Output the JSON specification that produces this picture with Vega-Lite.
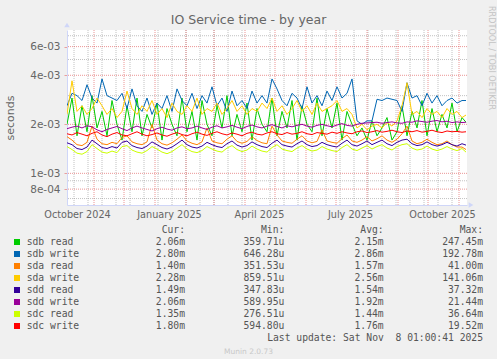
{
"$schema": "https://vega.github.io/schema/vega-lite/v6.json",
"background": "#f0f0f0",
"padding": {"left": 4, "top": 6, "right": 20, "bottom": 20},
"config": {"font": "DejaVu Sans", "view": {"stroke": null}},
"bounds": "flush",
"spacing": 25,
"resolve": {"scale": {"x": "independent", "y": "independent"}},
"title": {"text": "RRDTOOL / TOBI OETIKER", "orient": "right", "anchor": "start", "frame": "group", "angle": 90, "align": "left", "baseline": "alphabetic", "offset": -2, "dx": -24, "fontSize": 8.1, "font": "DejaVu Sans", "fontWeight": "normal", "color": "#c4c4c4"},
"datasets": {
"io": [
{"d":"2024-10-05T00:00","sdb read":0.002,"sdb write":0.0026,"sda read":0.00168,"sda write":0.0023,"sdd read":0.00154,"sdd write":0.00188,"sdc read":0.00146,"sdc write":0.00175},
{"d":"2024-10-10T00:00","sdb read":0.0029,"sdb write":0.0031,"sda read":0.0016,"sda write":0.0037,"sdd read":0.0015,"sdd write":0.00192,"sdc read":0.0014,"sdc write":0.00172},
{"d":"2024-10-15T00:00","sdb read":0.0017,"sdb write":0.003,"sda read":0.0015,"sda write":0.0024,"sdd read":0.00142,"sdd write":0.00195,"sdc read":0.00133,"sdc write":0.00178},
{"d":"2024-10-20T00:00","sdb read":0.0026,"sdb write":0.0028,"sda read":0.00148,"sda write":0.0026,"sdd read":0.0014,"sdd write":0.0019,"sdc read":0.00131,"sdc write":0.00174},
{"d":"2024-10-25T00:00","sdb read":0.0018,"sdb write":0.0035,"sda read":0.00155,"sda write":0.0023,"sdd read":0.00145,"sdd write":0.00196,"sdc read":0.00136,"sdc write":0.0017},
{"d":"2024-10-30T00:00","sdb read":0.003,"sdb write":0.0029,"sda read":0.00195,"sda write":0.0025,"sdd read":0.0016,"sdd write":0.00193,"sdc read":0.0015,"sdc write":0.00176},
{"d":"2024-11-04T00:00","sdb read":0.0019,"sdb write":0.0027,"sda read":0.00162,"sda write":0.0029,"sdd read":0.00152,"sdd write":0.00185,"sdc read":0.00142,"sdc write":0.0018},
{"d":"2024-11-09T00:00","sdb read":0.0024,"sdb write":0.0038,"sda read":0.00152,"sda write":0.0026,"sdd read":0.00144,"sdd write":0.0018,"sdc read":0.00135,"sdc write":0.00172},
{"d":"2024-11-14T00:00","sdb read":0.0017,"sdb write":0.003,"sda read":0.0015,"sda write":0.0023,"sdd read":0.00142,"sdd write":0.00186,"sdc read":0.00133,"sdc write":0.00168},
{"d":"2024-11-19T00:00","sdb read":0.0028,"sdb write":0.0029,"sda read":0.00155,"sda write":0.0025,"sdd read":0.00146,"sdd write":0.0019,"sdc read":0.00137,"sdc write":0.00174},
{"d":"2024-11-24T00:00","sdb read":0.002,"sdb write":0.0028,"sda read":0.00152,"sda write":0.0022,"sdd read":0.00143,"sdd write":0.00194,"sdc read":0.00134,"sdc write":0.00178},
{"d":"2024-11-29T00:00","sdb read":0.0016,"sdb write":0.0031,"sda read":0.00166,"sda write":0.0024,"sdd read":0.00155,"sdd write":0.00188,"sdc read":0.00146,"sdc write":0.00172},
{"d":"2024-12-04T00:00","sdb read":0.0026,"sdb write":0.0025,"sda read":0.0017,"sda write":0.0032,"sdd read":0.00158,"sdd write":0.00183,"sdc read":0.00148,"sdc write":0.0017},
{"d":"2024-12-09T00:00","sdb read":0.0018,"sdb write":0.0033,"sda read":0.00156,"sda write":0.0025,"sdd read":0.00148,"sdd write":0.0019,"sdc read":0.00139,"sdc write":0.00175},
{"d":"2024-12-14T00:00","sdb read":0.0029,"sdb write":0.0026,"sda read":0.00152,"sda write":0.0023,"sdd read":0.00144,"sdd write":0.00195,"sdc read":0.00135,"sdc write":0.0018},
{"d":"2024-12-19T00:00","sdb read":0.0017,"sdb write":0.0024,"sda read":0.0015,"sda write":0.0026,"sdd read":0.00142,"sdd write":0.0019,"sdc read":0.00133,"sdc write":0.00174},
{"d":"2024-12-24T00:00","sdb read":0.0023,"sdb write":0.0029,"sda read":0.00156,"sda write":0.0024,"sdd read":0.00147,"sdd write":0.00186,"sdc read":0.00138,"sdc write":0.0017},
{"d":"2024-12-29T00:00","sdb read":0.0019,"sdb write":0.0023,"sda read":0.002,"sda write":0.0028,"sdd read":0.00156,"sdd write":0.00182,"sdc read":0.00146,"sdc write":0.00173},
{"d":"2025-01-03T00:00","sdb read":0.0027,"sdb write":0.0027,"sda read":0.0016,"sda write":0.0023,"sdd read":0.0015,"sdd write":0.00188,"sdc read":0.00141,"sdc write":0.00177},
{"d":"2025-01-08T00:00","sdb read":0.0016,"sdb write":0.0025,"sda read":0.00152,"sda write":0.0025,"sdd read":0.00144,"sdd write":0.00192,"sdc read":0.00135,"sdc write":0.00172},
{"d":"2025-01-13T00:00","sdb read":0.0025,"sdb write":0.003,"sda read":0.00149,"sda write":0.0022,"sdd read":0.00141,"sdd write":0.00187,"sdc read":0.00132,"sdc write":0.00169},
{"d":"2025-01-18T00:00","sdb read":0.002,"sdb write":0.0024,"sda read":0.00154,"sda write":0.0027,"sdd read":0.00145,"sdd write":0.00184,"sdc read":0.00136,"sdc write":0.00174},
{"d":"2025-01-23T00:00","sdb read":0.0017,"sdb write":0.0033,"sda read":0.00162,"sda write":0.0024,"sdd read":0.00152,"sdd write":0.0019,"sdc read":0.00143,"sdc write":0.00178},
{"d":"2025-01-28T00:00","sdb read":0.0029,"sdb write":0.0028,"sda read":0.00172,"sda write":0.0023,"sdd read":0.0016,"sdd write":0.00193,"sdc read":0.0015,"sdc write":0.00173},
{"d":"2025-02-02T00:00","sdb read":0.0018,"sdb write":0.0026,"sda read":0.00158,"sda write":0.0026,"sdd read":0.0015,"sdd write":0.00188,"sdc read":0.00141,"sdc write":0.0017},
{"d":"2025-02-07T00:00","sdb read":0.0024,"sdb write":0.0031,"sda read":0.00153,"sda write":0.0024,"sdd read":0.00145,"sdd write":0.0019,"sdc read":0.00136,"sdc write":0.00175},
{"d":"2025-02-12T00:00","sdb read":0.0016,"sdb write":0.0025,"sda read":0.0015,"sda write":0.0029,"sdd read":0.00143,"sdd write":0.00195,"sdc read":0.00134,"sdc write":0.00179},
{"d":"2025-02-17T00:00","sdb read":0.0028,"sdb write":0.003,"sda read":0.00156,"sda write":0.0023,"sdd read":0.00147,"sdd write":0.0019,"sdc read":0.00138,"sdc write":0.00174},
{"d":"2025-02-22T00:00","sdb read":0.002,"sdb write":0.0027,"sda read":0.0019,"sda write":0.0025,"sdd read":0.00155,"sdd write":0.00186,"sdc read":0.00146,"sdc write":0.00171},
{"d":"2025-02-27T00:00","sdb read":0.0017,"sdb write":0.0034,"sda read":0.00158,"sda write":0.0024,"sdd read":0.0015,"sdd write":0.00192,"sdc read":0.00141,"sdc write":0.00176},
{"d":"2025-03-04T00:00","sdb read":0.0026,"sdb write":0.0026,"sda read":0.00154,"sda write":0.0027,"sdd read":0.00146,"sdd write":0.00196,"sdc read":0.00137,"sdc write":0.0018},
{"d":"2025-03-09T00:00","sdb read":0.0019,"sdb write":0.0029,"sda read":0.00152,"sda write":0.0023,"sdd read":0.00144,"sdd write":0.0019,"sdc read":0.00135,"sdc write":0.00175},
{"d":"2025-03-14T00:00","sdb read":0.003,"sdb write":0.0024,"sda read":0.00162,"sda write":0.0025,"sdd read":0.00152,"sdd write":0.00193,"sdc read":0.00143,"sdc write":0.00172},
{"d":"2025-03-19T00:00","sdb read":0.0017,"sdb write":0.0032,"sda read":0.0017,"sda write":0.0028,"sdd read":0.00158,"sdd write":0.00197,"sdc read":0.00148,"sdc write":0.00177},
{"d":"2025-03-24T00:00","sdb read":0.0023,"sdb write":0.0026,"sda read":0.00157,"sda write":0.0024,"sdd read":0.00149,"sdd write":0.00192,"sdc read":0.0014,"sdc write":0.00174},
{"d":"2025-03-29T00:00","sdb read":0.0018,"sdb write":0.0028,"sda read":0.00153,"sda write":0.0026,"sdd read":0.00145,"sdd write":0.00188,"sdc read":0.00136,"sdc write":0.0017},
{"d":"2025-04-03T00:00","sdb read":0.0027,"sdb write":0.0025,"sda read":0.00157,"sda write":0.0023,"sdd read":0.00148,"sdd write":0.00194,"sdc read":0.00139,"sdc write":0.00176},
{"d":"2025-04-08T00:00","sdb read":0.0016,"sdb write":0.0032,"sda read":0.00168,"sda write":0.0025,"sdd read":0.00156,"sdd write":0.00198,"sdc read":0.00147,"sdc write":0.00179},
{"d":"2025-04-13T00:00","sdb read":0.0025,"sdb write":0.0027,"sda read":0.00159,"sda write":0.0024,"sdd read":0.0015,"sdd write":0.00193,"sdc read":0.00141,"sdc write":0.00174},
{"d":"2025-04-18T00:00","sdb read":0.002,"sdb write":0.003,"sda read":0.00154,"sda write":0.0027,"sdd read":0.00146,"sdd write":0.0019,"sdc read":0.00137,"sdc write":0.00172},
{"d":"2025-04-23T00:00","sdb read":0.0018,"sdb write":0.0027,"sda read":0.00152,"sda write":0.0025,"sdd read":0.00144,"sdd write":0.00195,"sdc read":0.00135,"sdc write":0.00177},
{"d":"2025-04-28T00:00","sdb read":0.0029,"sdb write":0.0038,"sda read":0.00195,"sda write":0.0029,"sdd read":0.00153,"sdd write":0.00199,"sdc read":0.00144,"sdc write":0.0018},
{"d":"2025-05-03T00:00","sdb read":0.0017,"sdb write":0.0033,"sda read":0.00172,"sda write":0.0024,"sdd read":0.0016,"sdd write":0.00194,"sdc read":0.0015,"sdc write":0.00175},
{"d":"2025-05-08T00:00","sdb read":0.0024,"sdb write":0.0028,"sda read":0.00158,"sda write":0.0026,"sdd read":0.0015,"sdd write":0.0019,"sdc read":0.00141,"sdc write":0.00173},
{"d":"2025-05-13T00:00","sdb read":0.0019,"sdb write":0.0026,"sda read":0.00155,"sda write":0.0023,"sdd read":0.00147,"sdd write":0.00196,"sdc read":0.00138,"sdc write":0.00178},
{"d":"2025-05-18T00:00","sdb read":0.0028,"sdb write":0.0031,"sda read":0.00153,"sda write":0.0025,"sdd read":0.00145,"sdd write":0.00193,"sdc read":0.00136,"sdc write":0.00174},
{"d":"2025-05-23T00:00","sdb read":0.0016,"sdb write":0.0029,"sda read":0.00162,"sda write":0.0028,"sdd read":0.00152,"sdd write":0.00197,"sdc read":0.00143,"sdc write":0.00176},
{"d":"2025-05-28T00:00","sdb read":0.0026,"sdb write":0.0025,"sda read":0.0017,"sda write":0.0024,"sdd read":0.00158,"sdd write":0.002,"sdc read":0.00148,"sdc write":0.0018},
{"d":"2025-06-02T00:00","sdb read":0.002,"sdb write":0.0034,"sda read":0.00158,"sda write":0.0026,"sdd read":0.0015,"sdd write":0.00195,"sdc read":0.00141,"sdc write":0.00175},
{"d":"2025-06-07T00:00","sdb read":0.0018,"sdb write":0.0027,"sda read":0.00154,"sda write":0.0023,"sdd read":0.00146,"sdd write":0.00192,"sdc read":0.00137,"sdc write":0.00173},
{"d":"2025-06-12T00:00","sdb read":0.0029,"sdb write":0.003,"sda read":0.00157,"sda write":0.0027,"sdd read":0.00148,"sdd write":0.00197,"sdc read":0.00139,"sdc write":0.00178},
{"d":"2025-06-17T00:00","sdb read":0.0017,"sdb write":0.0026,"sda read":0.00185,"sda write":0.0024,"sdd read":0.00155,"sdd write":0.002,"sdc read":0.00146,"sdc write":0.00176},
{"d":"2025-06-22T00:00","sdb read":0.0025,"sdb write":0.0032,"sda read":0.00158,"sda write":0.0025,"sdd read":0.0015,"sdd write":0.00196,"sdc read":0.00141,"sdc write":0.00174},
{"d":"2025-06-27T00:00","sdb read":0.0019,"sdb write":0.0028,"sda read":0.00155,"sda write":0.0026,"sdd read":0.00147,"sdd write":0.00193,"sdc read":0.00138,"sdc write":0.00179},
{"d":"2025-07-02T00:00","sdb read":0.0027,"sdb write":0.0034,"sda read":0.00153,"sda write":0.0028,"sdd read":0.00145,"sdd write":0.00198,"sdc read":0.00136,"sdc write":0.00176},
{"d":"2025-07-07T00:00","sdb read":0.0016,"sdb write":0.0029,"sda read":0.00163,"sda write":0.0024,"sdd read":0.00153,"sdd write":0.00202,"sdc read":0.00144,"sdc write":0.0018},
{"d":"2025-07-12T00:00","sdb read":0.0024,"sdb write":0.0031,"sda read":0.00172,"sda write":0.0025,"sdd read":0.0016,"sdd write":0.00197,"sdc read":0.0015,"sdc write":0.00177},
{"d":"2025-07-17T00:00","sdb read":0.002,"sdb write":0.0038,"sda read":0.00158,"sda write":0.0023,"sdd read":0.0015,"sdd write":0.00195,"sdc read":0.00141,"sdc write":0.00175},
{"d":"2025-07-22T00:00","sdb read":0.0017,"sdb write":0.0021,"sda read":0.00155,"sda write":0.0019,"sdd read":0.00147,"sdd write":0.002,"sdc read":0.00138,"sdc write":0.0018},
{"d":"2025-07-27T00:00","sdb read":0.0019,"sdb write":0.002,"sda read":0.0016,"sda write":0.002,"sdd read":0.00152,"sdd write":0.00203,"sdc read":0.00143,"sdc write":0.00182},
{"d":"2025-08-01T00:00","sdb read":0.0016,"sdb write":0.0021,"sda read":0.00168,"sda write":0.00185,"sdd read":0.00158,"sdd write":0.00204,"sdc read":0.00148,"sdc write":0.00178},
{"d":"2025-08-06T00:00","sdb read":0.0021,"sdb write":0.0021,"sda read":0.00158,"sda write":0.00195,"sdd read":0.0015,"sdd write":0.00205,"sdc read":0.00141,"sdc write":0.0018},
{"d":"2025-08-11T00:00","sdb read":0.0017,"sdb write":0.00285,"sda read":0.00163,"sda write":0.002,"sdd read":0.00155,"sdd write":0.00206,"sdc read":0.00146,"sdc write":0.00183},
{"d":"2025-08-16T00:00","sdb read":0.0019,"sdb write":0.0028,"sda read":0.0017,"sda write":0.0019,"sdd read":0.0016,"sdd write":0.00203,"sdc read":0.0015,"sdc write":0.00179},
{"d":"2025-08-21T00:00","sdb read":0.0022,"sdb write":0.0029,"sda read":0.0016,"sda write":0.00205,"sdd read":0.00152,"sdd write":0.00205,"sdc read":0.00143,"sdc write":0.00181},
{"d":"2025-08-26T00:00","sdb read":0.0016,"sdb write":0.00285,"sda read":0.00155,"sda write":0.00195,"sdd read":0.00148,"sdd write":0.00207,"sdc read":0.00139,"sdc write":0.00184},
{"d":"2025-08-31T00:00","sdb read":0.0018,"sdb write":0.0028,"sda read":0.00162,"sda write":0.0021,"sdd read":0.00155,"sdd write":0.00204,"sdc read":0.00146,"sdc write":0.0018},
{"d":"2025-09-05T00:00","sdb read":0.0026,"sdb write":0.0024,"sda read":0.00175,"sda write":0.0026,"sdd read":0.0016,"sdd write":0.00203,"sdc read":0.0015,"sdc write":0.00178},
{"d":"2025-09-10T00:00","sdb read":0.0017,"sdb write":0.0036,"sda read":0.00195,"sda write":0.0036,"sdd read":0.00162,"sdd write":0.00207,"sdc read":0.00152,"sdc write":0.00182},
{"d":"2025-09-15T00:00","sdb read":0.0024,"sdb write":0.0029,"sda read":0.00158,"sda write":0.0023,"sdd read":0.00152,"sdd write":0.00206,"sdc read":0.00143,"sdc write":0.0018},
{"d":"2025-09-20T00:00","sdb read":0.0019,"sdb write":0.003,"sda read":0.00152,"sda write":0.0024,"sdd read":0.00148,"sdd write":0.0021,"sdc read":0.00139,"sdc write":0.00183},
{"d":"2025-09-25T00:00","sdb read":0.0028,"sdb write":0.0026,"sda read":0.00155,"sda write":0.0022,"sdd read":0.0015,"sdd write":0.00208,"sdc read":0.00141,"sdc write":0.00179},
{"d":"2025-09-30T00:00","sdb read":0.0017,"sdb write":0.0031,"sda read":0.00162,"sda write":0.0025,"sdd read":0.00156,"sdd write":0.00206,"sdc read":0.00147,"sdc write":0.00181},
{"d":"2025-10-05T00:00","sdb read":0.0025,"sdb write":0.0027,"sda read":0.00155,"sda write":0.0023,"sdd read":0.0015,"sdd write":0.00209,"sdc read":0.00141,"sdc write":0.00184},
{"d":"2025-10-10T00:00","sdb read":0.0018,"sdb write":0.003,"sda read":0.0015,"sda write":0.0024,"sdd read":0.00147,"sdd write":0.00211,"sdc read":0.00138,"sdc write":0.0018},
{"d":"2025-10-15T00:00","sdb read":0.0023,"sdb write":0.0026,"sda read":0.00152,"sda write":0.0022,"sdd read":0.0015,"sdd write":0.00207,"sdc read":0.00141,"sdc write":0.00178},
{"d":"2025-10-20T00:00","sdb read":0.0019,"sdb write":0.0028,"sda read":0.00158,"sda write":0.0025,"sdd read":0.00155,"sdd write":0.00209,"sdc read":0.00146,"sdc write":0.00182},
{"d":"2025-10-25T00:00","sdb read":0.0027,"sdb write":0.0029,"sda read":0.0015,"sda write":0.0023,"sdd read":0.0015,"sdd write":0.00205,"sdc read":0.00141,"sdc write":0.0018},
{"d":"2025-10-30T00:00","sdb read":0.0018,"sdb write":0.0027,"sda read":0.00145,"sda write":0.0024,"sdd read":0.00147,"sdd write":0.00207,"sdc read":0.00138,"sdc write":0.00181},
{"d":"2025-11-04T00:00","sdb read":0.0022,"sdb write":0.0028,"sda read":0.00145,"sda write":0.0022,"sdd read":0.00152,"sdd write":0.00205,"sdc read":0.00142,"sdc write":0.00179},
{"d":"2025-11-08T00:00","sdb read":0.00206,"sdb write":0.0028,"sda read":0.0014,"sda write":0.00228,"sdd read":0.00149,"sdd write":0.00206,"sdc read":0.00135,"sdc write":0.0018}
],
"xminor": [{"d":"2024-10-12T00:00"},{"d":"2024-10-26T00:00"},{"d":"2024-11-09T00:00"},{"d":"2024-11-23T00:00"},{"d":"2024-12-07T00:00"},{"d":"2024-12-21T00:00"},{"d":"2025-01-04T00:00"},{"d":"2025-01-18T00:00"},{"d":"2025-02-01T00:00"},{"d":"2025-02-15T00:00"},{"d":"2025-03-01T00:00"},{"d":"2025-03-15T00:00"},{"d":"2025-03-29T00:00"},{"d":"2025-04-12T00:00"},{"d":"2025-04-26T00:00"},{"d":"2025-05-10T00:00"},{"d":"2025-05-24T00:00"},{"d":"2025-06-07T00:00"},{"d":"2025-06-21T00:00"},{"d":"2025-07-05T00:00"},{"d":"2025-07-19T00:00"},{"d":"2025-08-02T00:00"},{"d":"2025-08-16T00:00"},{"d":"2025-08-30T00:00"},{"d":"2025-09-13T00:00"},{"d":"2025-09-27T00:00"},{"d":"2025-10-11T00:00"},{"d":"2025-10-25T00:00"}],
"xmajor": [{"d":"2024-11-01T00:00"},{"d":"2024-12-01T00:00"},{"d":"2025-01-01T00:00"},{"d":"2025-02-01T00:00"},{"d":"2025-03-01T00:00"},{"d":"2025-04-01T00:00"},{"d":"2025-05-01T00:00"},{"d":"2025-06-01T00:00"},{"d":"2025-07-01T00:00"},{"d":"2025-08-01T00:00"},{"d":"2025-09-01T00:00"},{"d":"2025-10-01T00:00"},{"d":"2025-11-01T00:00"}],
"yminor": [{"v":0.0007},{"v":0.0009},{"v":0.003},{"v":0.005},{"v":0.007}],
"ymajor": [{"v":0.0008},{"v":0.001},{"v":0.002},{"v":0.004},{"v":0.006}],
"legend": [
{"s":"hdr","cur":"Cur:\u00a0\u00a0","min":"Min:\u00a0\u00a0","avg":"Avg:\u00a0\u00a0","max":"Max:\u00a0\u00a0"},
{"s":"sdb read","cur":"2.06m","min":"359.71u","avg":"2.15m","max":"247.45m"},
{"s":"sdb write","cur":"2.80m","min":"646.28u","avg":"2.86m","max":"192.78m"},
{"s":"sda read","cur":"1.40m","min":"351.53u","avg":"1.57m","max":"41.00m"},
{"s":"sda write","cur":"2.28m","min":"859.51u","avg":"2.56m","max":"141.06m"},
{"s":"sdd read","cur":"1.49m","min":"347.83u","avg":"1.54m","max":"37.32m"},
{"s":"sdd write","cur":"2.06m","min":"589.95u","avg":"1.92m","max":"21.44m"},
{"s":"sdc read","cur":"1.35m","min":"276.51u","avg":"1.44m","max":"36.64m"},
{"s":"sdc write","cur":"1.80m","min":"594.80u","avg":"1.76m","max":"19.52m"},
{"s":"upd","max":"Last update: Sat Nov\u00a0 8 01:00:41 2025"}
]
},
"vconcat": [
{
"width": 400,
"height": 175,
"view": {"fill": "#ffffff", "stroke": null},
"title": {"text": "IO Service time - by year", "anchor": "middle", "frame": "group", "dx": -18.5, "offset": -13.7, "baseline": "alphabetic", "fontSize": 12.5, "font": "DejaVu Sans", "fontWeight": "normal", "color": "#666666"},
"layer": [
{"data": {"name": "xminor"}, "mark": {"type": "rule", "color": "#8f8f8f", "strokeOpacity": 0.55, "strokeDash": [1, 1], "strokeWidth": 1},
 "encoding": {"x": {"field": "d", "type": "temporal", "scale": {"domain": [{"year": 2024, "month": 10, "date": 5}, {"year": 2025, "month": 11, "date": 9}]}}}},
{"data": {"name": "xmajor"}, "mark": {"type": "rule", "color": "#de4f4f", "strokeOpacity": 0.6, "strokeDash": [1, 1], "strokeWidth": 1},
 "encoding": {"x": {"field": "d", "type": "temporal", "scale": {"domain": [{"year": 2024, "month": 10, "date": 5}, {"year": 2025, "month": 11, "date": 9}]}}}},
{"data": {"name": "yminor"}, "mark": {"type": "rule", "color": "#8f8f8f", "strokeOpacity": 0.55, "strokeDash": [1, 1], "strokeWidth": 1},
 "encoding": {"y": {"field": "v", "type": "quantitative", "scale": {"type": "log", "domain": [0.000639, 0.00759], "nice": false}}}},
{"data": {"name": "ymajor"}, "mark": {"type": "rule", "color": "#de4f4f", "strokeOpacity": 0.6, "strokeDash": [1, 1], "strokeWidth": 1},
 "encoding": {"y": {"field": "v", "type": "quantitative", "scale": {"type": "log", "domain": [0.000639, 0.00759], "nice": false}}}},
{"data": {"name": "io"},
 "transform": [{"fold": ["sdb read", "sdb write", "sda read", "sda write", "sdd read", "sdd write", "sdc read", "sdc write"], "as": ["series", "value"]}],
 "mark": {"type": "line", "strokeWidth": 1, "clip": true},
 "encoding": {
  "x": {"field": "d", "type": "temporal", "scale": {"domain": [{"year": 2024, "month": 10, "date": 5}, {"year": 2025, "month": 11, "date": 9}]},
   "axis": {"values": [{"year": 2024, "month": 10, "date": 15}, {"year": 2025, "month": 1, "date": 15}, {"year": 2025, "month": 4, "date": 15}, {"year": 2025, "month": 7, "date": 15}, {"year": 2025, "month": 10, "date": 15}],
    "format": "%B %Y", "grid": false, "ticks": false, "tickSize": 0, "labelPadding": 12.7, "labelBaseline": "alphabetic", "labelFontSize": 9.7, "labelFont": "DejaVu Sans", "labelColor": "#666666", "labelFlush": false, "labelOverlap": false, "domain": true, "domainColor": "#cfd6f8", "title": null}},
  "y": {"field": "value", "type": "quantitative", "scale": {"type": "log", "domain": [0.000639, 0.00759], "nice": false},
   "axis": {"orient": "left", "values": [0.0008, 0.001, 0.002, 0.004, 0.006], "labelExpr": "replace(format(datum.value, '.0e'), 'e-', 'e-0')", "grid": false, "ticks": true, "tickSize": 3, "tickColor": "#e8a0a0", "labelPadding": 4, "labelFontSize": 10.5, "labelFont": "DejaVu Sans", "labelColor": "#666666", "labelOverlap": false, "domain": true, "domainColor": "#cfd6f8", "title": "seconds", "titleFont": "DejaVu Sans", "titleFontSize": 11, "titleFontWeight": "normal", "titleColor": "#666666", "titlePadding": 14}},
  "color": {"field": "series", "type": "nominal", "scale": {"domain": ["sdb read", "sdb write", "sda read", "sda write", "sdd read", "sdd write", "sdc read", "sdc write"], "range": ["#00cc00", "#0066b3", "#ff8000", "#ffcc00", "#330099", "#990099", "#ccff00", "#ff0000"]}, "legend": null}
 }},
{"data": {"values": [{}]}, "mark": {"type": "point", "shape": "triangle-up", "filled": true, "size": 30, "opacity": 1, "color": "#cfd6f8", "yOffset": -5},
 "encoding": {"x": {"datum": {"year": 2024, "month": 10, "date": 5}, "type": "temporal", "scale": {"domain": [{"year": 2024, "month": 10, "date": 5}, {"year": 2025, "month": 11, "date": 9}]}},
  "y": {"datum": 0.00759, "type": "quantitative", "scale": {"type": "log", "domain": [0.000639, 0.00759], "nice": false}}}},
{"data": {"values": [{}]}, "mark": {"type": "point", "shape": "triangle-right", "filled": true, "size": 30, "opacity": 1, "color": "#cfd6f8", "xOffset": 4},
 "encoding": {"x": {"datum": {"year": 2025, "month": 11, "date": 9}, "type": "temporal", "scale": {"domain": [{"year": 2024, "month": 10, "date": 5}, {"year": 2025, "month": 11, "date": 9}]}},
  "y": {"datum": 0.000639, "type": "quantitative", "scale": {"type": "log", "domain": [0.000639, 0.00759], "nice": false}}}}
]
},
{
"width": 400,
"height": 108,
"view": {"stroke": null},
"data": {"name": "legend"},
"title": {"text": "Munin 2.0.73", "orient": "bottom", "anchor": "middle", "frame": "group", "dx": -18.5, "offset": 5, "baseline": "top", "fontSize": 7.5, "font": "DejaVu Sans", "fontWeight": "normal", "color": "#c8c8c8"},
"layer": [
{"transform": [{"filter": "datum.s != 'hdr' && datum.s != 'upd'"}],
 "mark": {"type": "square", "filled": true, "size": 36, "opacity": 1, "xOffset": -168},
 "encoding": {
  "x": {"datum": "cur", "type": "nominal", "scale": {"type": "point", "domain": ["cur", "min", "avg", "max"], "range": [118, 416], "padding": 0}, "axis": null},
  "y": {"field": "s", "type": "nominal", "scale": {"type": "point", "domain": ["hdr", "sdb read", "sdb write", "sda read", "sda write", "sdd read", "sdd write", "sdc read", "sdc write", "upd"], "padding": 0}, "axis": null},
  "color": {"field": "s", "type": "nominal", "scale": {"domain": ["sdb read", "sdb write", "sda read", "sda write", "sdd read", "sdd write", "sdc read", "sdc write"], "range": ["#00cc00", "#0066b3", "#ff8000", "#ffcc00", "#330099", "#990099", "#ccff00", "#ff0000"]}, "legend": null}}},
{"transform": [{"filter": "datum.s != 'hdr' && datum.s != 'upd'"}],
 "mark": {"type": "text", "align": "left", "baseline": "middle", "dx": -158.3, "font": "DejaVu Sans Mono", "fontSize": 9.7, "color": "#555555"},
 "encoding": {
  "x": {"datum": "cur", "type": "nominal", "scale": {"type": "point", "domain": ["cur", "min", "avg", "max"], "range": [118, 416], "padding": 0}, "axis": null},
  "y": {"field": "s", "type": "nominal", "scale": {"type": "point", "domain": ["hdr", "sdb read", "sdb write", "sda read", "sda write", "sdd read", "sdd write", "sdc read", "sdc write", "upd"], "padding": 0}, "axis": null},
  "text": {"field": "s", "type": "nominal"}}},
{"transform": [{"fold": ["cur", "min", "avg", "max"], "as": ["col", "txt"]}, {"filter": "isValid(datum.txt)"}],
 "mark": {"type": "text", "align": "right", "baseline": "middle", "font": "DejaVu Sans Mono", "fontSize": 9.7, "color": "#555555"},
 "encoding": {
  "x": {"field": "col", "type": "nominal", "scale": {"type": "point", "domain": ["cur", "min", "avg", "max"], "range": [118, 416], "padding": 0}, "axis": null},
  "y": {"field": "s", "type": "nominal", "scale": {"type": "point", "domain": ["hdr", "sdb read", "sdb write", "sda read", "sda write", "sdd read", "sdd write", "sdc read", "sdc write", "upd"], "padding": 0}, "axis": null},
  "text": {"field": "txt", "type": "nominal"}}}
]
}
]
}
